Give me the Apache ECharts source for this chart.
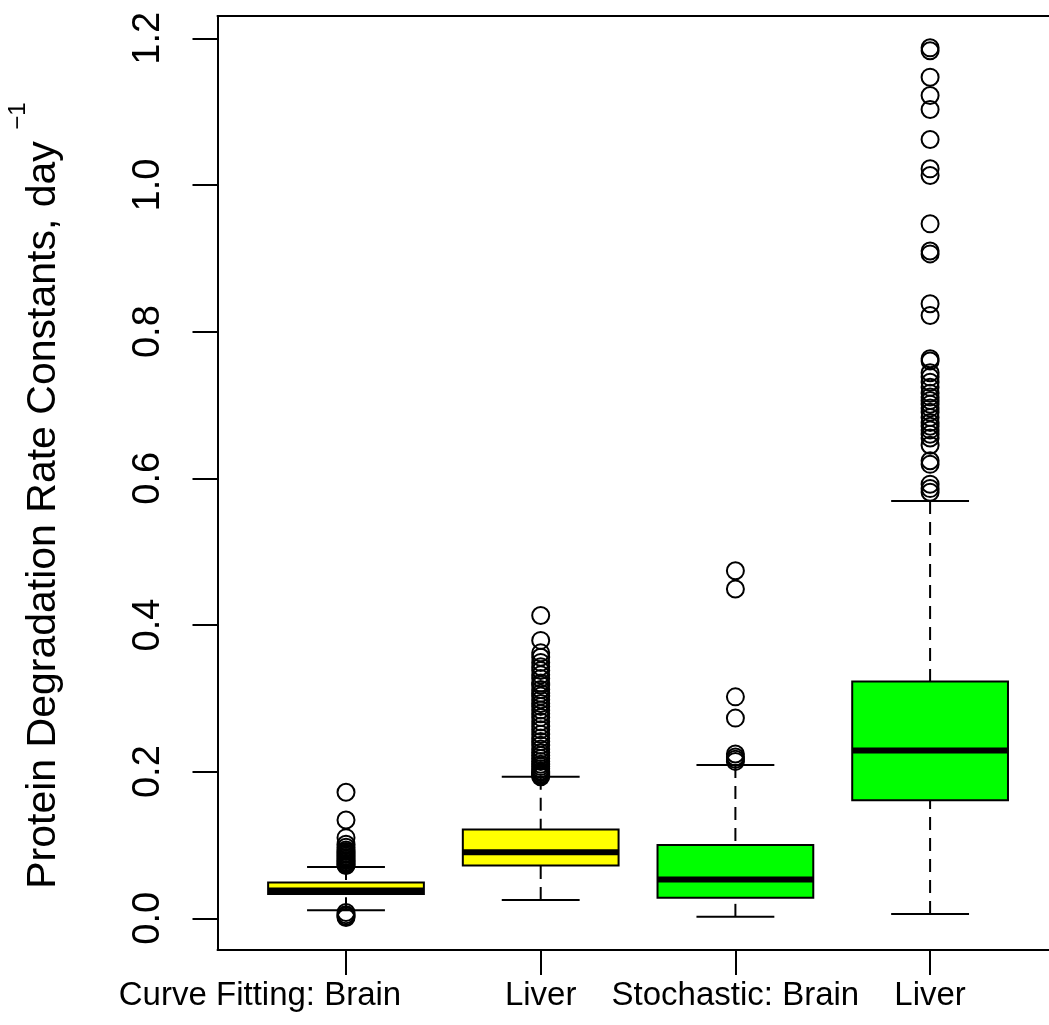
<!DOCTYPE html>
<html>
<head>
<meta charset="utf-8">
<script src="https://cdn.jsdelivr.net/npm/echarts@6/dist/echarts.min.js"></script>
<style>
  html, body { margin: 0; padding: 0; background: #ffffff; }
  #chart { width: 1049px; height: 1025px; }
</style>
</head>
<body>
<div id="chart"></div>
<script>
// Group labels along the x axis
const groups = ['Curve Fitting: Brain', 'Liver', 'Stochastic: Brain', 'Liver'];
const boxFill = ['#ffff00', '#ffff00', '#00ff00', '#00ff00'];

// Box statistics per group: [lower whisker, Q1, median, Q3, upper whisker]
const fitBrainStats   = [0.011, 0.033, 0.038, 0.049, 0.070];
const fitLiverStats   = [0.025, 0.072, 0.090, 0.121, 0.193];
const stochBrainStats = [0.002, 0.028, 0.053, 0.100, 0.209];
const stochLiverStats = [0.006, 0.161, 0.229, 0.323, 0.569];

// Outlying values per group
const fitBrainOutliers = [0.172, 0.134, 0.110, 0.101, 0.097, 0.093, 0.091, 0.089, 0.087,
  0.085, 0.083, 0.081, 0.079, 0.077, 0.075, 0.073, 0.072, 0.008, 0.005, 0.003, 0.001];
const fitLiverOutliers = [0.413, 0.379, 0.362, 0.356, 0.349, 0.343, 0.338, 0.332, 0.327,
  0.321, 0.318, 0.312, 0.307, 0.303, 0.298, 0.293, 0.289, 0.284, 0.279, 0.274, 0.268,
  0.262, 0.257, 0.251, 0.246, 0.241, 0.236, 0.231, 0.226, 0.222, 0.218, 0.214, 0.210,
  0.207, 0.204, 0.201, 0.199, 0.197, 0.195, 0.193];
const stochBrainOutliers = [0.474, 0.449, 0.302, 0.273, 0.224, 0.220, 0.217, 0.214];
const stochLiverOutliers = [1.187, 1.183, 1.147, 1.122, 1.103, 1.062, 1.022, 1.013, 0.947,
  0.910, 0.906, 0.838, 0.822, 0.763, 0.760, 0.744, 0.738, 0.731, 0.724, 0.716, 0.711,
  0.706, 0.701, 0.696, 0.690, 0.683, 0.676, 0.671, 0.666, 0.660, 0.655, 0.645, 0.624,
  0.619, 0.592, 0.586, 0.581];

// Axis tick values
const yTicks = [0.0, 0.2, 0.4, 0.6, 0.8, 1.0, 1.2];
const xTicks = [1, 2, 3, 4];

const allStats = [fitBrainStats, fitLiverStats, stochBrainStats, stochLiverStats];
const allOutliers = [fitBrainOutliers, fitLiverOutliers, stochBrainOutliers, stochLiverOutliers];

const boxRows = allStats.map((s, i) => [i + 1].concat(s));
const outlierPoints = [];
allOutliers.forEach((arr, i) => arr.forEach(v => outlierPoints.push([i + 1, v])));

const FONT = '"Liberation Sans", Arial, Helvetica, sans-serif';
const X_MIN = 0.34, X_MAX = 4.6107;
const Y_MIN = -0.0432, Y_MAX = 1.2304;
const frameLine = { show: true, onZero: false, lineStyle: { color: '#000', width: 2 } };

function renderBox(params, api) {
  const i = params.dataIndex;
  const x = api.value(0);
  const pLo = api.coord([x, api.value(1)]);
  const pQ1 = api.coord([x, api.value(2)]);
  const pMed = api.coord([x, api.value(3)]);
  const pQ3 = api.coord([x, api.value(4)]);
  const pHi = api.coord([x, api.value(5)]);
  const cx = pLo[0];
  const w = api.size([0.8, 0])[0];
  const cw = api.size([0.4, 0])[0];
  const thin = { stroke: '#000', lineWidth: 2 };
  const dashed = { stroke: '#000', lineWidth: 2, lineDash: [13, 8] };
  return {
    type: 'group',
    children: [
      { type: 'line', shape: { x1: cx, y1: pHi[1], x2: cx, y2: pQ3[1] }, style: dashed },
      { type: 'line', shape: { x1: cx, y1: pLo[1], x2: cx, y2: pQ1[1] }, style: dashed },
      { type: 'line', shape: { x1: cx - cw / 2, y1: pHi[1], x2: cx + cw / 2, y2: pHi[1] }, style: thin },
      { type: 'line', shape: { x1: cx - cw / 2, y1: pLo[1], x2: cx + cw / 2, y2: pLo[1] }, style: thin },
      { type: 'rect', shape: { x: cx - w / 2, y: pQ3[1], width: w, height: pQ1[1] - pQ3[1] },
        style: { fill: boxFill[i], stroke: '#000', lineWidth: 2 } },
      { type: 'line', shape: { x1: cx - w / 2, y1: pMed[1], x2: cx + w / 2, y2: pMed[1] },
        style: { stroke: '#000', lineWidth: 6 } }
    ]
  };
}

const chart = echarts.init(document.getElementById('chart'), null, { renderer: 'canvas' });
chart.setOption({
  animation: false,
  backgroundColor: '#ffffff',
  grid: { left: 217.5, top: 16, right: 0, height: 934, show: false },
  xAxis: [
    {
      type: 'value', min: X_MIN, max: X_MAX, position: 'bottom',
      axisLine: frameLine,
      splitLine: { show: false },
      axisTick: { show: true, customValues: xTicks, length: 25, inside: false,
        lineStyle: { color: '#000', width: 2 } },
      axisLabel: {
        customValues: xTicks, margin: 29, color: '#000', fontSize: 33, fontFamily: FONT,
        formatter: v => {
          const name = groups[Math.round(v) - 1];
          return Math.round(v) === 1 ? '{shift|' + name + '}' : name;
        },
        rich: { shift: { fontSize: 33, fontFamily: FONT, color: '#000', padding: [0, 172, 0, 0] } }
      }
    },
    {
      // top edge of the plot frame
      type: 'value', min: X_MIN, max: X_MAX, position: 'top',
      axisLine: frameLine,
      splitLine: { show: false }, axisTick: { show: false }, axisLabel: { show: false }
    }
  ],
  yAxis: {
    type: 'value', min: Y_MIN, max: Y_MAX, position: 'left',
    axisLine: frameLine,
    splitLine: { show: false },
    axisTick: { show: true, customValues: yTicks, length: 25, inside: false,
      lineStyle: { color: '#000', width: 2 } },
    axisLabel: {
      customValues: yTicks, rotate: 90, margin: 50, color: '#000', fontSize: 38, fontFamily: FONT,
      formatter: v => v.toFixed(1)
    }
  },
  graphic: [
    { type: 'text', x: 44, y: 515, rotation: Math.PI / 2,
      style: { text: 'Protein Degradation Rate Constants, day', font: '41px ' + FONT,
        fill: '#000', textAlign: 'center', textVerticalAlign: 'middle' } },
    { type: 'text', x: 18, y: 116, rotation: Math.PI / 2,
      style: { text: '\u22121', font: '24px ' + FONT,
        fill: '#000', textAlign: 'center', textVerticalAlign: 'middle' } }
  ],
  series: [
    {
      type: 'custom', renderItem: renderBox, data: boxRows,
      encode: { x: 0, y: [1, 2, 3, 4, 5] }, z: 2
    },
    {
      type: 'scatter', data: outlierPoints, symbol: 'circle', symbolSize: 17, z: 3,
      itemStyle: { color: 'rgba(0,0,0,0)', borderColor: '#000', borderWidth: 2, opacity: 1 },
      emphasis: { disabled: true }
    }
  ]
});
</script>
</body>
</html>
